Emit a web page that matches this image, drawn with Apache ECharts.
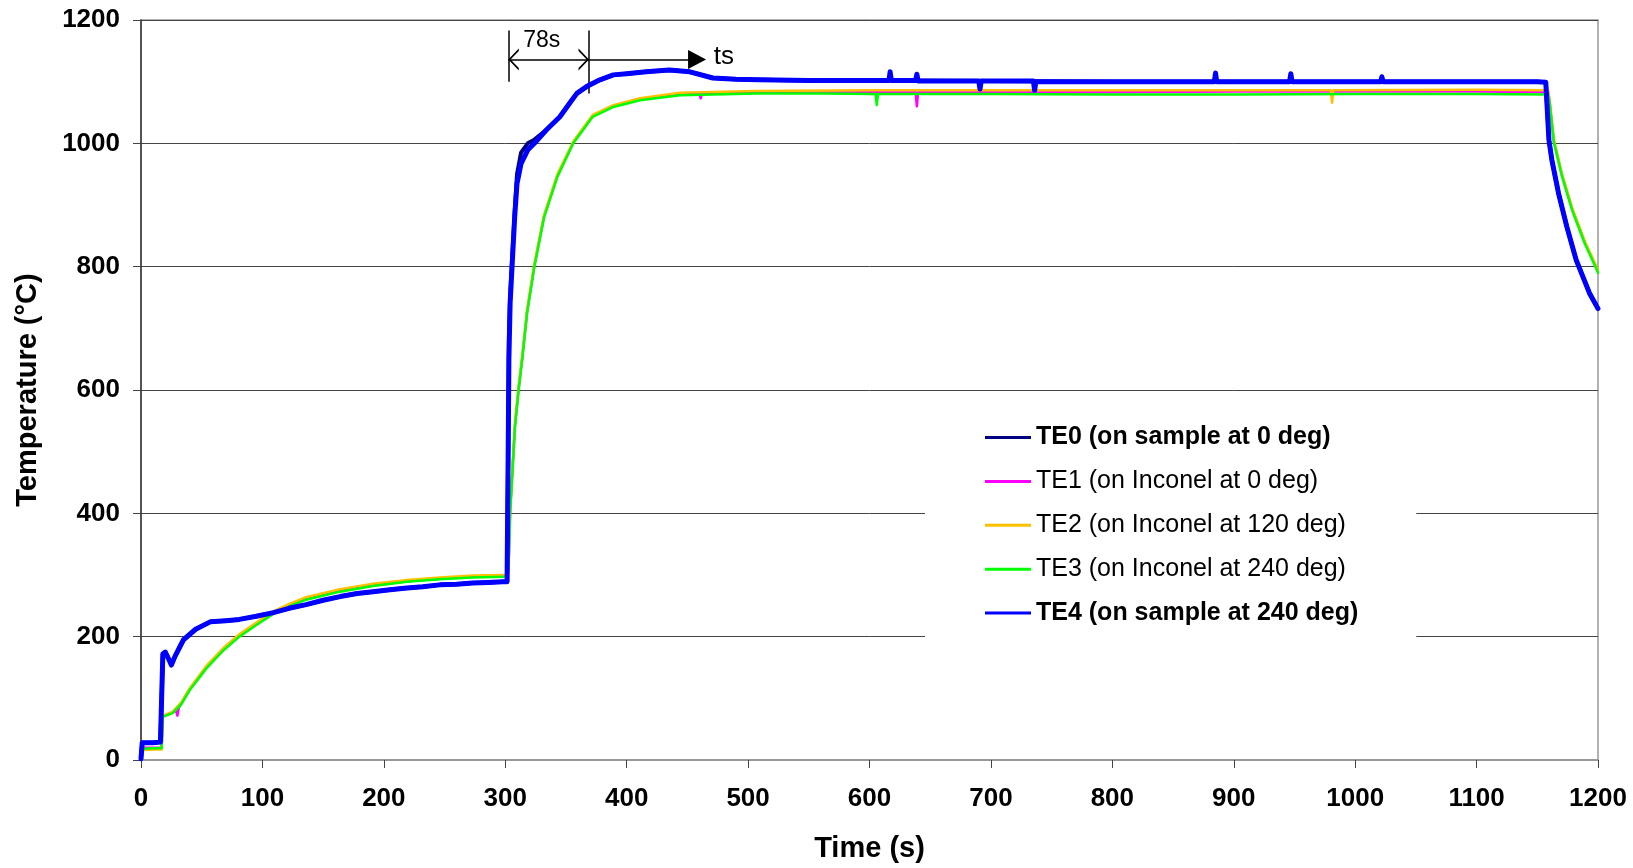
<!DOCTYPE html>
<html>
<head>
<meta charset="utf-8">
<script src="https://cdn.jsdelivr.net/npm/echarts@6/dist/echarts.min.js"></script>
<style>html,body{margin:0;padding:0;background:#fff;}#chart{width:1633px;height:868px;}</style>
</head>
<body>
<div id="chart"></div>
<script>
// ---- Data (time in s, temperature in °C) ----
var seriesNames = ['TE0 (on sample at 0 deg)', 'TE1 (on Inconel at 0 deg)', 'TE2 (on Inconel at 120 deg)', 'TE3 (on Inconel at 240 deg)', 'TE4 (on sample at 240 deg)'];
var xTicks = [0, 100, 200, 300, 400, 500, 600, 700, 800, 900, 1000, 1100, 1200];
var yTicks = [0, 200, 400, 600, 800, 1000, 1200];

var te0 = [[0,2],[1,28],[10,28],[16,29],[17,28],[18,172],[20,175],[23,163],[25,154],[28,168],[35,195],[45,212],[57,224],[70,226],[81,228],[95,233],[109,239],[122,246],[136,252],[150,259],[164,265],[178,270],[191,273],[205,276],[219,279],[232,281],[246,284],[260,285],[273,287],[286,288],[298,289],[301.5,289],[302.5,520],[303,680],[304,750],[305.6,810],[307.8,890],[309.7,950],[313,985],[318.5,1000],[324,1006],[334,1022],[345,1043],[353,1065],[359,1081],[367,1092],[378,1103],[389,1111],[400,1113],[416,1116],[435,1119],[452,1116],[471,1106],[490,1104],[509,1103],[550,1102],[600,1102],[700,1101],[800,1100],[900,1100],[1000,1100],[1100,1100],[1150,1100],[1157,1099],[1159.6,1005],[1162,973],[1167.5,919],[1174.3,865],[1182,811],[1193,757],[1200,732]];

var te1 = [[0,20],[10,20],[17,20],[18,71],[26,77],[29,80],[30,72],[31,84],[40,114],[54,150],[68,179],[81,201],[95,220],[109,238],[123,251],[136,261],[164,274],[191,283],[219,290],[246,294],[273,297],[298,298],[302,298],[303,332],[304,402],[306,472],[308,542],[311,602],[314,652],[318,727],[324,802],[332,882],[343,948],[356,1001],[372,1044],[389,1060],[411,1071],[444,1079],[460,1080],[461,1073],[462,1080],[507,1082],[600,1083],[638,1083],[639,1060],[640,1083],[700,1083],[800,1083],[900,1084],[1000,1084],[1100,1084],[1159,1083],[1160,1070],[1163.6,1004],[1170.4,948],[1178.6,894],[1189,840],[1199,797],[1200,792]];

var te2 = [[0,16],[10,17],[17,17],[18,72],[26,78],[33,93],[40,116],[54,153],[68,182],[81,204],[95,223],[109,241],[123,254],[136,264],[164,277],[191,286],[219,292],[246,296],[273,299],[298,300],[302,300],[303,335],[304,405],[306,478],[308,548],[311,606],[314,656],[318,730],[324,805],[332,884],[343,950],[356,1003],[372,1046],[389,1062],[411,1073],[444,1082],[507,1085],[600,1086],[700,1086],[800,1086],[900,1086],[980,1086],[981,1066],[982,1086],[1100,1087],[1159,1086],[1160,1072],[1163.6,1006],[1170.4,950],[1178.6,896],[1189,842],[1199,799],[1200,794]];

var te3 = [[0,18],[10,19],[17,19],[18,70],[26,76],[33,90],[40,113],[54,149],[68,178],[81,200],[95,219],[109,237],[123,250],[136,260],[164,273],[191,282],[219,289],[246,293],[273,296],[298,297],[302,298],[303,330],[304,400],[306,470],[308,540],[311,600],[314,650],[318,725],[324,800],[332,880],[343,946],[356,1000],[372,1043],[389,1059],[411,1070],[444,1078],[507,1081],[560,1081],[605,1080],[606,1062],[607,1080],[700,1080],[800,1079],[900,1079],[1000,1080],[1100,1080],[1159,1079],[1160,1068],[1163.6,1002],[1170.4,946],[1178.6,892],[1189,838],[1199,795],[1200,790]];

var te4 = [[0,2],[1,28],[10,28],[16,29],[17,28],[18,172],[20,175],[23,163],[25,154],[28,168],[35,195],[45,212],[57,224],[70,226],[81,228],[95,233],[109,239],[122,246],[136,252],[150,259],[164,265],[178,270],[191,273],[205,276],[219,279],[232,281],[246,284],[260,285],[273,287],[286,288],[298,289],[301.5,289],[302.5,520],[303,650],[304,740],[305.6,800],[307.8,881],[309.7,935],[313,967],[318.5,989],[324,1000],[334,1022],[345,1043],[353,1065],[359,1081],[367,1092],[378,1103],[389,1111],[400,1113],[416,1116],[435,1119],[452,1116],[471,1106],[490,1104],[509,1103],[550,1102],[600,1102],[616,1102],[617,1116],[618,1102],[638,1102],[639,1112],[640,1101],[690,1101],[691,1088],[692,1101],[735,1101],[736,1086],[737,1100],[800,1100],[884,1100],[885,1114],[886,1100],[946,1100],[947,1113],[948,1100],[1000,1100],[1021,1100],[1022,1108],[1023,1100],[1100,1100],[1150,1100],[1157,1099],[1159.6,1005],[1162,973],[1167.5,919],[1174.3,865],[1182,811],[1193,757],[1200,732]];

// annotation: "78s" span (t start, t end) and "ts" arrow
var spanStart = 302.5, spanEnd = 369, arrowEnd = 458;
var annoY = 1136;

// ---- Chart ----
var chart = echarts.init(document.getElementById('chart'), null, {renderer: 'canvas'});
var FONT = '"Liberation Sans", Arial, sans-serif';
var colors = ['#000080', '#FF00FF', '#FFC000', '#00FF00', '#0000FF'];
var widths = [4, 2.5, 2.5, 2.5, 5];
var datas = [te0, te1, te2, te3, te4];
var bold = [true, false, false, false, true];

var chevron = 'path://M5,-10 L5.01,-10 L5,-9.99 Z M5,0 L10,10 L8.9,10 L5,2.2 L1.1,10 L0,10 Z';

var series = datas.map(function (d, i) {
  return {
    name: seriesNames[i],
    type: 'line',
    data: d,
    showSymbol: false,
    symbol: 'none',
    smooth: false,
    lineStyle: {color: colors[i], width: widths[i], join: 'round', cap: 'round'},
    itemStyle: {color: colors[i]},
    animation: false,
    silent: true,
    z: 2 + i
  };
});

series.push({
  name: 'annotation',
  type: 'line',
  data: [],
  silent: true,
  animation: false,
  z: 10,
  markLine: {
    silent: true,
    animation: false,
    label: {show: false},
    lineStyle: {color: '#000', width: 1.5, type: 'solid'},
    symbol: ['none', 'none'],
    data: [
      [{coord: [spanStart, 1183]}, {coord: [spanStart, 1100]}],
      [{coord: [spanEnd, 1183]}, {coord: [spanEnd, 1081]}],
      [{coord: [spanStart, annoY], symbol: chevron, symbolSize: [22, 21]}, {coord: [spanEnd, annoY], symbol: chevron, symbolSize: [22, 21]}],
      [{coord: [spanEnd, annoY], symbol: 'none'}, {coord: [arrowEnd, annoY], symbol: 'triangle', symbolSize: [19, 18]}]
    ]
  },
  markPoint: {
    silent: true,
    animation: false,
    symbol: 'circle',
    symbolSize: 1,
    itemStyle: {color: 'rgba(0,0,0,0)'},
    data: [
      {coord: [330, 1166], label: {show: true, position: 'inside', formatter: '78s', color: '#000', fontSize: 23, fontFamily: FONT}},
      {coord: [480, 1140], label: {show: true, position: 'inside', formatter: 'ts', color: '#000', fontSize: 26, fontFamily: FONT}}
    ]
  }
});

var option = {
  backgroundColor: '#fff',
  animation: false,
  grid: {left: 141, right: 35, top: 20, bottom: 108, show: true, borderColor: '#999', borderWidth: 1.5, backgroundColor: 'transparent'},
  legend: {
    data: seriesNames.map(function (n, i) {
      return {name: n, icon: 'rect', itemStyle: {color: colors[i]}};
    }),
    orient: 'vertical',
    left: 925,
    top: 413,
    padding: [12, 58, 13, 60],
    itemGap: 18.9,
    itemWidth: 46,
    itemHeight: 3,
    backgroundColor: '#fff',
    selectedMode: false,
    formatter: function (name) {
      var i = seriesNames.indexOf(name);
      return (bold[i] ? '{b|' : '{n|') + name + '}';
    },
    textStyle: {
      color: '#000',
      fontFamily: FONT,
      fontSize: 25,
      rich: {
        b: {fontWeight: 'bold', fontSize: 25, fontFamily: FONT, lineHeight: 24, color: '#000'},
        n: {fontWeight: 'normal', fontSize: 25, fontFamily: FONT, lineHeight: 24, color: '#000'}
      }
    }
  },
  xAxis: {
    type: 'value',
    min: xTicks[0],
    max: xTicks[xTicks.length - 1],
    interval: 100,
    name: 'Time (s)',
    nameLocation: 'middle',
    nameGap: 74,
    nameTextStyle: {fontFamily: FONT, fontSize: 29, fontWeight: 'bold', color: '#000'},
    axisLine: {show: true, onZero: false, lineStyle: {color: '#999', width: 2}},
    axisTick: {show: true, length: 8, inside: false, lineStyle: {color: '#444', width: 1}},
    axisLabel: {margin: 26, fontFamily: FONT, fontSize: 26, fontWeight: 'bold', color: '#000', formatter: function (v) { return String(v); }},
    splitLine: {show: false}
  },
  yAxis: {
    type: 'value',
    min: yTicks[0],
    max: yTicks[yTicks.length - 1],
    interval: 200,
    name: 'Temperature (°C)',
    nameLocation: 'middle',
    nameGap: 99,
    nameTextStyle: {fontFamily: FONT, fontSize: 29, fontWeight: 'bold', color: '#000'},
    axisLine: {show: true, onZero: false, lineStyle: {color: '#333', width: 1.5}},
    axisTick: {show: true, length: 8, inside: false, lineStyle: {color: '#444', width: 1}},
    axisLabel: {margin: 21, fontFamily: FONT, fontSize: 26, fontWeight: 'bold', color: '#000', formatter: function (v) { return String(v); }},
    splitLine: {show: true, lineStyle: {color: '#444', width: 1}}
  },
  series: series
};
chart.setOption(option);
</script>
</body>
</html>
